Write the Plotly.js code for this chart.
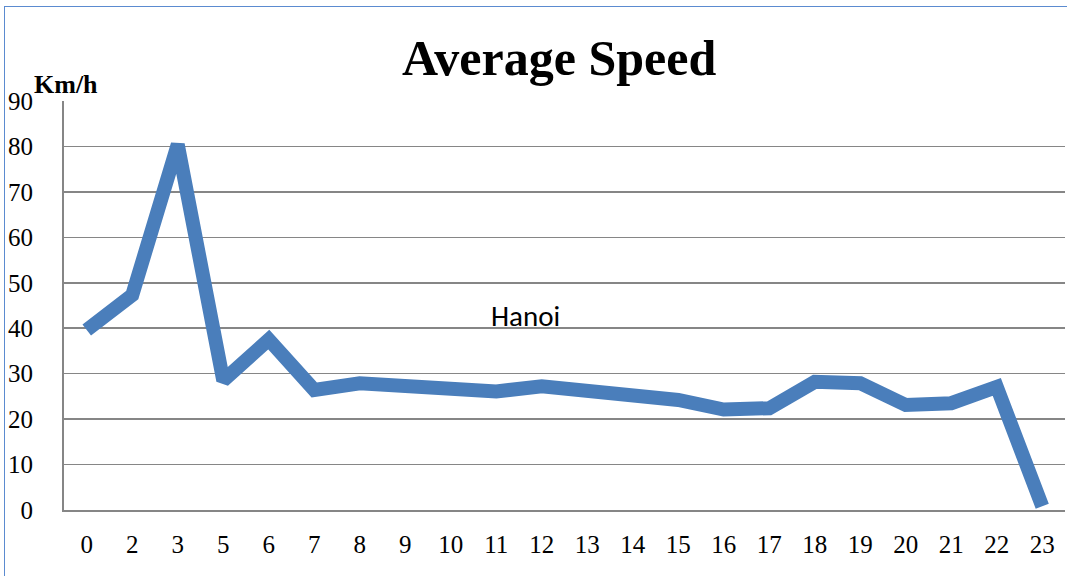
<!DOCTYPE html>
<html>
<head>
<meta charset="utf-8">
<script src="https://cdn.plot.ly/plotly-3.0.1.min.js"></script>
<style>
  body { margin: 0; background: #fff; }
  #chart { position: absolute; left: 0; top: 0; width: 1067px; height: 576px; }
  #frame { position: absolute; left: 4px; top: 6px; width: 1100px; height: 600px;
           border-left: 1.5px solid #5b8bd0; border-top: 1.5px solid #5b8bd0; pointer-events: none; }
</style>
</head>
<body>
<div id="chart"></div>
<div id="frame"></div>
<script>
var HOURS = ["0", "2", "3", "5", "6", "7", "8", "9", "10", "11", "12", "13",
             "14", "15", "16", "17", "18", "19", "20", "21", "22", "23"];
var SPEED_HANOI = [39.6, 47.3, 80.4, 28.5, 37.5, 26.4, 27.9, 27.2, 26.7, 26.1, 27.2, 26.1,
                   25.4, 24.2, 22.1, 22.4, 28.2, 27.9, 23.1, 23.5, 27.1, 0.8];

var SERIF = "'Liberation Serif', 'Times New Roman', serif";

var data = [
  {
    type: "scatter",
    mode: "lines",
    x: HOURS,
    y: SPEED_HANOI,
    name: "Hanoi",
    line: { color: "#4a7ebb", width: 14, shape: "linear" },
    hoverinfo: "x+y"
  }
];

var layout = {
  width: 1067,
  height: 576,
  paper_bgcolor: "#ffffff",
  plot_bgcolor: "#ffffff",
  showlegend: false,
  margin: { l: 64, r: 2, t: 101, b: 66 },
  title: {
    text: "<b>Average Speed</b>",
    font: { family: SERIF, size: 50, color: "#000" },
    x: 0.524, xanchor: "center",
    y: 0.9, yanchor: "middle", yref: "container"
  },
  xaxis: {
    type: "category",
    range: [-0.5, 21.5],
    showgrid: false,
    showline: true,
    linecolor: "#868686",
    linewidth: 2,
    ticks: "",
    ticklabelstandoff: 11,
    tickfont: { family: SERIF, size: 25, color: "#000" },
    zeroline: false
  },
  yaxis: {
    range: [0, 90],
    dtick: 10,
    showgrid: true,
    gridcolor: "#868686",
    gridwidth: 1.5,
    showline: true,
    linecolor: "#868686",
    linewidth: 2,
    ticks: "",
    ticklabelstandoff: 24,
    tickfont: { family: SERIF, size: 25, color: "#000" },
    zeroline: false
  },
  annotations: [
    {
      text: "<b>Km/h</b>",
      xref: "paper", yref: "paper",
      x: -0.032, y: 1.04,
      xanchor: "left", yanchor: "middle",
      showarrow: false,
      font: { family: SERIF, size: 26, color: "#000" }
    },
    {
      text: "Hanoi",
      xref: "paper", yref: "y",
      x: 0.461, y: 42.6,
      xanchor: "center", yanchor: "middle",
      showarrow: false,
      font: { family: "Carlito, 'Liberation Sans', Arial, sans-serif", size: 29, color: "#000" }
    }
  ]
};

Plotly.newPlot("chart", data, layout, { displayModeBar: false, staticPlot: true });
</script>
</body>
</html>
